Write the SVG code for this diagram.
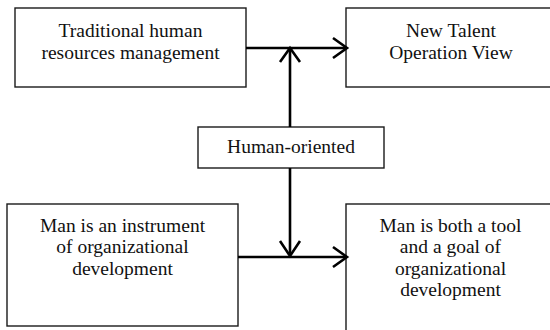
<svg xmlns="http://www.w3.org/2000/svg" width="550" height="330" viewBox="0 0 550 330">
<style>
.box{fill:#fff;stroke:#1a1a1a;stroke-width:1.4}
.c{fill:none;stroke:#000;stroke-width:2.6;stroke-linecap:butt;stroke-linejoin:miter}
</style>
<rect width="550" height="330" fill="#fff"/>
<g font-family="Liberation Serif, serif" font-size="19.5" fill="#111" text-anchor="middle">
<g id="traditional">
<rect class="box" x="15" y="8" width="231" height="79"/>
<text x="130.5" y="36.5">Traditional human</text>
<text x="130.5" y="58.5">resources management</text>
</g>
<g id="new-talent">
<rect class="box" x="346" y="8" width="220" height="79"/>
<text x="451" y="36.5">New Talent</text>
<text x="451" y="58.5">Operation View</text>
</g>
<g id="human-oriented">
<rect class="box" x="198" y="127" width="186" height="41"/>
<text x="291" y="152.5">Human-oriented</text>
</g>
<g id="instrument">
<rect class="box" x="7" y="204" width="231" height="122"/>
<text x="122.5" y="231.5">Man is an instrument</text>
<text x="122.5" y="253">of organizational</text>
<text x="122.5" y="274.5">development</text>
</g>
<g id="tool-and-goal">
<rect class="box" x="346" y="204" width="220" height="140"/>
<text x="450.5" y="231.5">Man is both a tool</text>
<text x="450.5" y="253">and a goal of</text>
<text x="450.5" y="274.5">organizational</text>
<text x="450.5" y="296">development</text>
</g>
</g>
<g id="connectors">
<path class="c" d="M246 48 H346"/>
<path class="c" d="M333 38 L347 48 L333 58"/>
<path class="c" d="M290 127 V49"/>
<path class="c" d="M280 62 L290 48 L300 62"/>
<path class="c" d="M238 257 H346"/>
<path class="c" d="M333 247 L347 257 L333 267"/>
<path class="c" d="M290 168 V255"/>
<path class="c" d="M280 241 L290 256 L300 241"/>
</g>
</svg>
